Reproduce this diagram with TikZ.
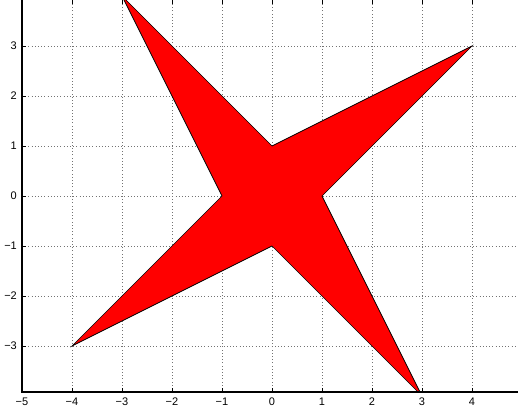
\documentclass[tikz,border=0pt]{standalone}
\usepackage{fontspec}
\setmainfont{Liberation Sans}
\begin{document}
\begin{tikzpicture}[x=50pt,y=50pt,
  gridline/.style={black!55, line width=0.6pt, dash pattern=on 0.8pt off 2.4pt},
  axisline/.style={black, line width=1.3pt},
  tickmark/.style={black, line width=0.8pt},
  ticklab/.style={font=\fontsize{11}{13}\selectfont, inner sep=0pt},
  starshape/.style={fill=red, draw=black, line width=0.7pt, line join=miter}]
\useasboundingbox (-5.44,-4.36) rectangle (4.92,3.92);
% grid
\foreach \x in {-4,...,4} \draw[gridline] (\x,-3.92) -- (\x,3.92);
\foreach \y in {-3,...,3} \draw[gridline] (-5,\y) -- (4.92,\y);
% star
\begin{scope}
\clip (-5,-3.92) rectangle (5,3.92);
\draw[starshape] (-3,4) -- (0,1) -- (4,3) -- (1,0) -- (3,-4) -- (0,-1) -- (-4,-3) -- (-1,0) -- cycle;
\end{scope}
% ticks
\foreach \x in {-4,...,4} {
  \draw[tickmark] (\x,-3.92) -- (\x,-3.83);
  \draw[tickmark] (\x,3.92) -- (\x,3.83);
}
\foreach \y in {-3,...,3} \draw[tickmark] (-5,\y) -- (-4.91,\y);
% axes
\draw[axisline] (-5,3.92) -- (-5,-3.92) -- (4.92,-3.92);
% labels
\foreach \x/\t in {-5/−5,-4/−4,-3/−3,-2/−2,-1/−1,0/0,1/1,2/2,3/3,4/4}
  \node[ticklab] (xl\x) at (\x,-4.12) {\t};
\foreach \y/\t in {-3/−3,-2/−2,-1/−1,0/0,1/1,2/2,3/3}
  \node[ticklab, anchor=east] (yl\y) at (-5.1,\y) {\t};
\end{tikzpicture}
\end{document}
